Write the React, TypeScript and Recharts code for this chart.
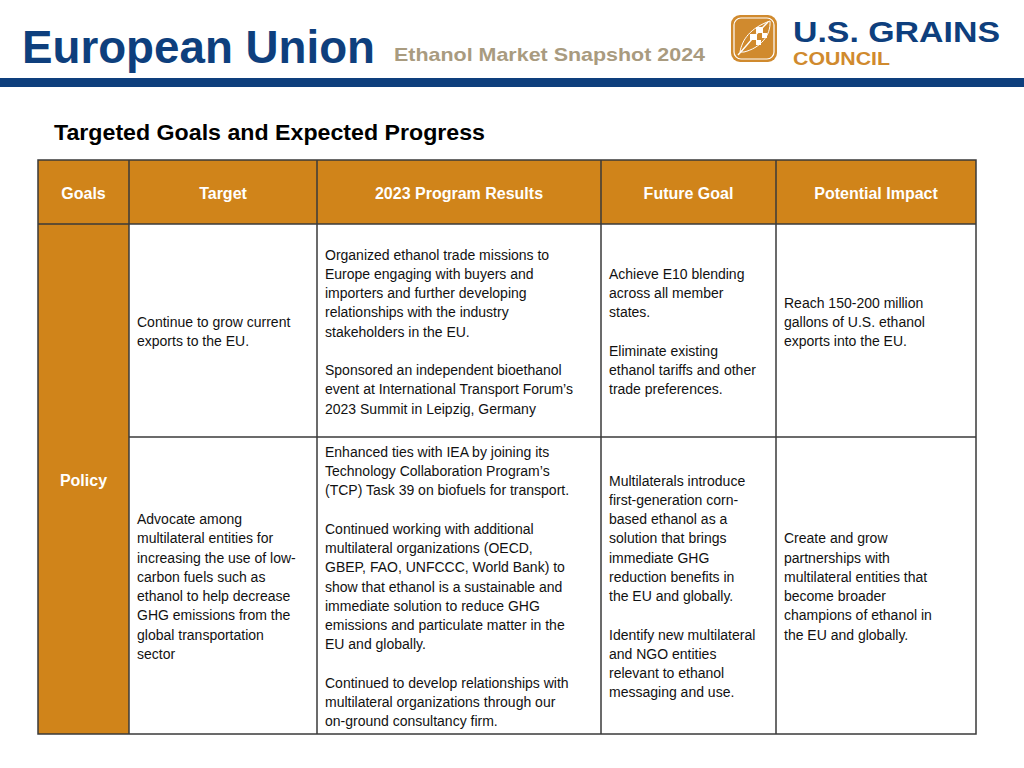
import { Surface, Layer, Rectangle } from 'recharts'

// table content
const headers = ['Goals', 'Target', '2023 Program Results', 'Future Goal', 'Potential Impact']
const goalLabel = 'Policy'

// each cell: paragraphs of lines ('' = trailing blank line)
const row1Target = [['Continue to grow current', 'exports to the EU.']]
const row1Results = [
  [
    'Organized ethanol trade missions to',
    'Europe engaging with buyers and',
    'importers and further developing',
    'relationships with the industry',
    'stakeholders in the EU.',
  ],
  [
    'Sponsored an independent bioethanol',
    'event at International Transport Forum\u2019s',
    '2023 Summit in Leipzig, Germany',
  ],
]
const row1Future = [
  ['Achieve E10 blending', 'across all member', 'states.'],
  ['Eliminate existing', 'ethanol tariffs and other', 'trade preferences.'],
]
const row1Impact = [['Reach 150-200 million', 'gallons of U.S. ethanol', 'exports into the EU.', '']]

const row2Target = [
  [
    'Advocate among',
    'multilateral entities for',
    'increasing the use of low-',
    'carbon fuels such as',
    'ethanol to help decrease',
    'GHG emissions from the',
    'global transportation',
    'sector',
  ],
]
const row2Results = [
  [
    'Enhanced ties with IEA by joining its',
    'Technology Collaboration Program\u2019s',
    '(TCP) Task 39 on biofuels for transport.',
  ],
  [
    'Continued working with additional',
    'multilateral organizations (OECD,',
    'GBEP, FAO, UNFCCC, World Bank) to',
    'show that ethanol is a sustainable and',
    'immediate solution to reduce GHG',
    'emissions and particulate matter in the',
    'EU and globally.',
  ],
  [
    'Continued to develop relationships with',
    'multilateral organizations through our',
    'on-ground consultancy firm.',
  ],
]
const row2Future = [
  [
    'Multilaterals introduce',
    'first-generation corn-',
    'based ethanol as a',
    'solution that brings',
    'immediate GHG',
    'reduction benefits in',
    'the EU and globally.',
  ],
  ['Identify new multilateral', 'and NGO entities', 'relevant to ethanol', 'messaging and use.'],
]
const row2Impact = [
  [
    'Create and grow',
    'partnerships with',
    'multilateral entities that',
    'become broader',
    'champions of ethanol in',
    'the EU and globally.',
  ],
]

const rows = [
  [row1Target, row1Results, row1Future, row1Impact],
  [row2Target, row2Results, row2Future, row2Impact],
]

// layout
const W = 1024
const H = 768
const colX = [38, 129, 317, 601, 776, 976]
const rowY = [160, 224, 437, 734]
const LINE = 19.25
const ORANGE = '#D0841A'
const BLUE = '#0E3F7D'
const BORDER = '#3a3a3a'
const SANS = '"Liberation Sans", Arial, Helvetica, sans-serif'
const NARROW = '"Liberation Sans Narrow", "Liberation Sans", Arial, sans-serif'

function Cell({ paras, x, top, bottom }: { paras: string[][]; x: number; top: number; bottom: number }) {
  const lines: string[] = []
  paras.forEach((p, i) => {
    if (i > 0) lines.push('')
    lines.push(...p)
  })
  const mid = (top + bottom) / 2
  const start = Math.max(top + 13.5, mid - ((lines.length - 1) * LINE) / 2)
  return (
    <text fontFamily={SANS} fontSize={14} fill="#111">
      {lines.map((l, i) =>
        l ? (
          <tspan key={i} x={x} y={start + i * LINE + 6}>
            {l}
          </tspan>
        ) : null,
      )}
    </text>
  )
}

function Logo() {
  return (
    <Layer>
      <rect x={731} y={15} width={46} height={47} rx={9} fill="#D08A2E" />
      <rect x={734} y={18} width={40} height={41} rx={7} fill="none" stroke="#fff" strokeWidth={1.2} />
      <path d="M738 55 C 748 44, 756 34, 768 22" stroke="#fff" strokeWidth={1.4} fill="none" />
      <path d="M740 52 C 742 40, 750 28, 770 21 C 771 36, 760 48, 744 52 Z" fill="none" stroke="#fff" strokeWidth={1} />
      <rect x={756} y={27} width={7} height={6} fill="#fff" />
      <rect x={750} y={34} width={7} height={6} fill="#fff" />
      <rect x={762} y={33} width={5} height={5} fill="#fff" />
      <rect x={756} y={40} width={5} height={5} fill="#fff" />
      <text x={793} y={42} fontFamily={SANS} fontWeight="bold" fontSize={30} fill={BLUE} textLength={207} lengthAdjust="spacingAndGlyphs">
        U.S. GRAINS
      </text>
      <text x={793} y={65} fontFamily={SANS} fontWeight="bold" fontSize={18} fill="#D08A2E" textLength={97} lengthAdjust="spacingAndGlyphs">
        COUNCIL
      </text>
    </Layer>
  )
}

export default function App() {
  return (
    <div style={{ position: 'absolute', left: 0, top: 0, width: W, height: H, background: '#fff' }}>
      <Surface width={W} height={H} viewBox={{ x: 0, y: 0, width: W, height: H }}>
        {/* page header */}
        <text x={22} y={63} fontFamily={NARROW} fontWeight="bold" fontSize={47} fill={BLUE} textLength={353} lengthAdjust="spacingAndGlyphs">
          European Union
        </text>
        <text x={394} y={61} fontFamily={NARROW} fontWeight="bold" fontSize={19} fill="#A99B7F" textLength={311} lengthAdjust="spacingAndGlyphs">
          Ethanol Market Snapshot 2024
        </text>
        <Logo />
        <Rectangle x={0} y={78} width={W} height={9} fill={BLUE} />

        <text x={54} y={140} fontFamily={SANS} fontWeight="bold" fontSize={22} fill="#000" textLength={431} lengthAdjust="spacingAndGlyphs">
          Targeted Goals and Expected Progress
        </text>

        {/* table backgrounds */}
        <Rectangle x={colX[0]} y={rowY[0]} width={colX[5] - colX[0]} height={rowY[1] - rowY[0]} fill={ORANGE} />
        <Rectangle x={colX[0]} y={rowY[1]} width={colX[1] - colX[0]} height={rowY[3] - rowY[1]} fill={ORANGE} />

        {headers.map((h, i) => (
          <text
            key={h}
            x={(colX[i] + colX[i + 1]) / 2}
            y={199}
            textAnchor="middle"
            fontFamily={SANS}
            fontWeight="bold"
            fontSize={16}
            fill="#fff"
          >
            {h}
          </text>
        ))}
        <text x={(colX[0] + colX[1]) / 2} y={486} textAnchor="middle" fontFamily={SANS} fontWeight="bold" fontSize={16} fill="#fff">
          {goalLabel}
        </text>

        {rows.map((r, ri) =>
          r.map((paras, ci) => (
            <Cell key={`${ri}-${ci}`} paras={paras} x={colX[ci + 1] + 8} top={rowY[ri + 1]} bottom={rowY[ri + 2]} />
          )),
        )}

        {/* grid lines */}
        <g stroke={BORDER} strokeWidth={1.5}>
          <rect x={colX[0]} y={rowY[0]} width={colX[5] - colX[0]} height={rowY[3] - rowY[0]} fill="none" />
          <line x1={colX[0]} x2={colX[5]} y1={rowY[1]} y2={rowY[1]} />
          <line x1={colX[1]} x2={colX[5]} y1={rowY[2]} y2={rowY[2]} />
          {colX.slice(1, 5).map((x) => (
            <line key={x} x1={x} x2={x} y1={rowY[0]} y2={rowY[3]} />
          ))}
        </g>
      </Surface>
    </div>
  )
}
